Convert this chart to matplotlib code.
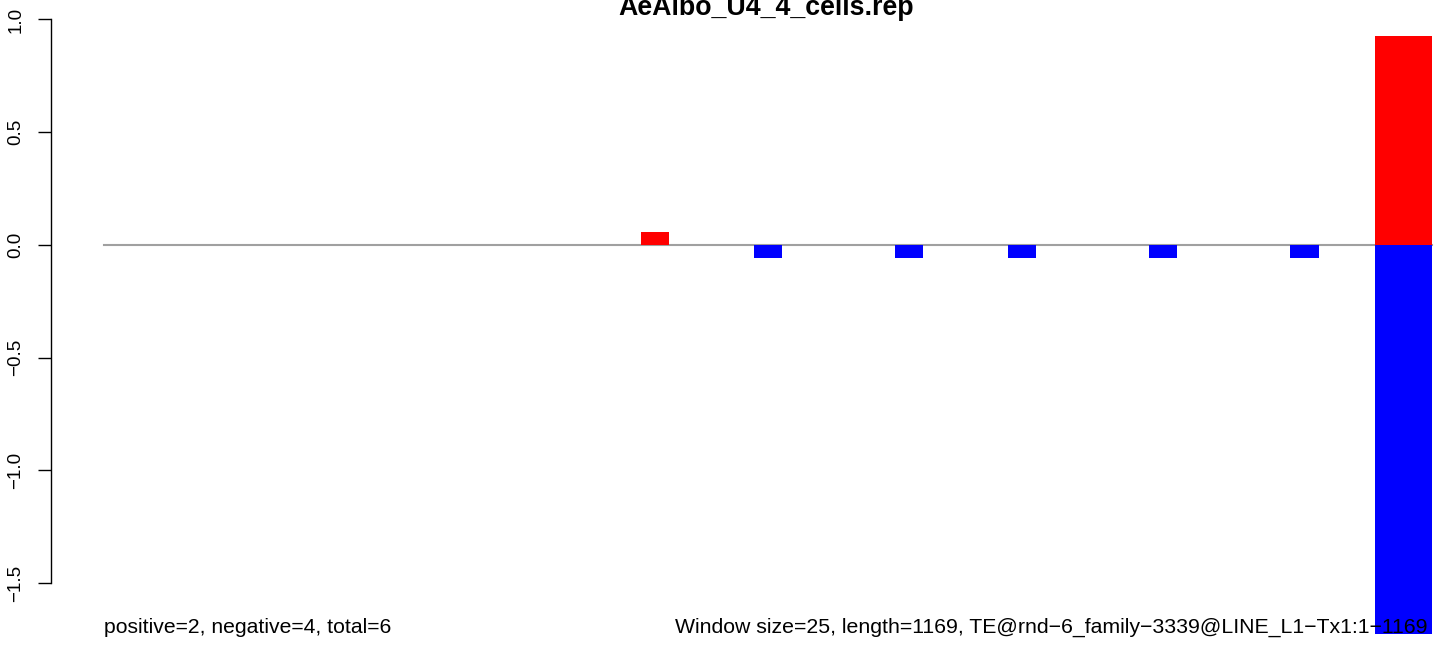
import matplotlib
matplotlib.use("Agg")
import matplotlib.pyplot as plt

plt.rcParams['font.family'] = ['Liberation Sans', 'DejaVu Sans']

title = "AeAlbo_U4_4_cells.rep"
pos_windows = [19]
pos_values = [0.057]
neg_windows = [23, 28, 32, 37, 42]
neg_values = [-0.057, -0.057, -0.057, -0.057, -0.057]
summary_x = 45
summary_width = 2
summary_pos = 0.926
summary_neg = -1.728
n_windows = 47
yticks = [-1.5, -1.0, -0.5, 0.0, 0.5, 1.0]
ytick_labels = ["\u22121.5", "\u22121.0", "\u22120.5", "0.0", "0.5", "1.0"]
left_text = "positive=2, negative=4, total=6"
right_text = ("Window size=25, length=1169, TE@rnd\u22126_family\u22123339@LINE_L1\u2212Tx1:1\u22121169")

W, H = 1444, 646
fig = plt.figure(figsize=(W / 100, H / 100), dpi=100)
unit = 28.25
x0 = 104
ax_left_px, ax_right_px = 50.5, 1432
ax_top_px, ax_bot_px = 19.5, 583
ax = fig.add_axes([ax_left_px / W, (H - ax_bot_px) / H,
                   (ax_right_px - ax_left_px) / W, (ax_bot_px - ax_top_px) / H])
ax.set_xlim((ax_left_px - x0) / unit, (ax_right_px - x0) / unit)
ax.set_ylim(-1.5, 1.0)

ax.plot([0, n_windows], [0, 0], color='#a0a0a0', lw=1.5, zorder=1, clip_on=False)
ax.bar(pos_windows, pos_values, width=1, align='edge', color='#ff0000', zorder=2, clip_on=False)
ax.bar(neg_windows, neg_values, width=1, align='edge', color='#0000ff', zorder=2, clip_on=False)
ax.bar([summary_x], [summary_pos], width=summary_width, align='edge', color='#ff0000', zorder=2, clip_on=False)
ax.bar([summary_x], [summary_neg], width=summary_width, align='edge', color='#0000ff', zorder=2, clip_on=False)

for s in ['top', 'right', 'bottom']:
    ax.spines[s].set_visible(False)
ax.spines['left'].set_bounds(-1.5, 1.0)
ax.spines['left'].set_linewidth(1.0)
ax.set_xticks([])
ax.set_yticks(yticks)
ax.set_yticklabels(ytick_labels, rotation=90, va='center', fontsize=13.5)
ax.tick_params(axis='y', length=9.4, width=1.0, pad=9.5)

fig.text(766 / W, 1 - 15 / H, title, ha='center', va='baseline',
         fontsize=19.3, fontweight='bold')
fig.text(x0 / W, 1 - 633 / H, left_text, ha='left', va='baseline', fontsize=15.2, zorder=5)
fig.text(675 / W, 1 - 633 / H, right_text, ha='left', va='baseline', fontsize=15.33, zorder=5)

fig.savefig("out.png", dpi=100)
